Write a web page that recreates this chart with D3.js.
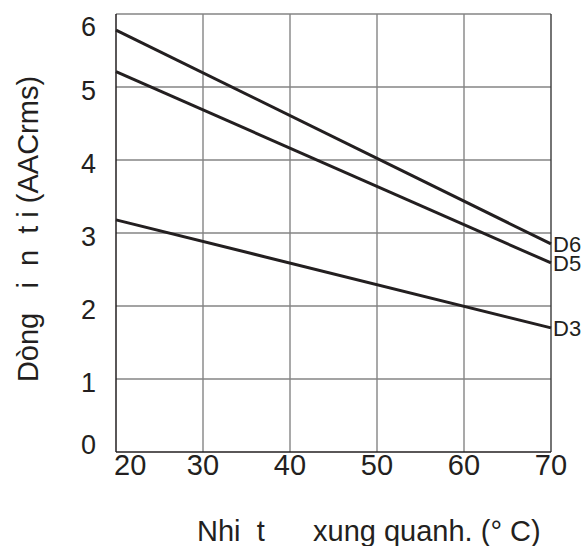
<!DOCTYPE html>
<html>
<head>
<meta charset="utf-8">
<script src="https://cdn.jsdelivr.net/npm/d3@7"></script>
<style>
  body { margin: 0; background: #fff; }
  text { font-family: "Liberation Sans", Arial, sans-serif; fill: #231f20; white-space: pre; }
</style>
</head>
<body>
<svg id="chart"></svg>
<script>
// Data
var temps = [20, 70];
var seriesNames = ["D6", "D5", "D3"];
var valsD6 = [5.78, 2.85];
var valsD5 = [5.21, 2.59];
var valsD3 = [3.18, 1.70];
var xTicks = [20, 30, 40, 50, 60, 70];
var yTicks = [0, 1, 2, 3, 4, 5, 6];
var xTitle = "Nhi  t      xung quanh. (° C)";
var yTitle = "Dòng   i  n  t i (AACrms)";

var W = 584, H = 546;
var margin = {top: 14, right: 33, bottom: 94, left: 116};

var svg = d3.select("#chart")
    .attr("width", W)
    .attr("height", H);

var x = d3.scaleLinear()
    .domain([20, 70])
    .range([margin.left, W - margin.right]);

var y = d3.scaleLinear()
    .domain([0, 6])
    .range([H - margin.bottom, margin.top]);

// grid lines
svg.append("g")
    .selectAll("line")
    .data(xTicks.slice(1, -1))
    .enter()
    .append("line")
    .attr("x1", function(d) { return x(d); })
    .attr("x2", function(d) { return x(d); })
    .attr("y1", y(0))
    .attr("y2", y(6))
    .attr("stroke", "#858585")
    .attr("stroke-width", 1.4);

svg.append("g")
    .selectAll("line")
    .data(yTicks.slice(1))
    .enter()
    .append("line")
    .attr("x1", x(20))
    .attr("x2", x(70))
    .attr("y1", function(d) { return y(d); })
    .attr("y2", function(d) { return y(d); })
    .attr("stroke", "#858585")
    .attr("stroke-width", 1.4);

// frame: left, bottom and right dark
svg.append("line")
    .attr("x1", x(20)).attr("x2", x(20))
    .attr("y1", y(0)).attr("y2", y(6))
    .attr("stroke", "#231f20").attr("stroke-width", 1.5);
svg.append("line")
    .attr("x1", x(70)).attr("x2", x(70))
    .attr("y1", y(0)).attr("y2", y(6))
    .attr("stroke", "#3a3a3a").attr("stroke-width", 1.4);
svg.append("line")
    .attr("x1", x(20)).attr("x2", x(70))
    .attr("y1", y(0)).attr("y2", y(0))
    .attr("stroke", "#231f20").attr("stroke-width", 1.5);

// tick labels
svg.append("g")
    .selectAll("text")
    .data(xTicks)
    .enter()
    .append("text")
    .attr("x", function(d, i) { return i == 0 ? x(d) - 2 : x(d); })
    .attr("y", y(0) + 23)
    .attr("text-anchor", function(d, i) { return i == 0 ? "start" : "middle"; })
    .style("font-size", "29px")
    .text(function(d) { return d; });

svg.append("g")
    .selectAll("text")
    .data(yTicks)
    .enter()
    .append("text")
    .attr("x", x(20) - 20)
    .attr("y", function(d) {
        // outer labels sit a bit inside the frame
        if (d == 6) return y(d) + 12;
        if (d == 0) return y(d) - 8;
        return y(d) + 3;
    })
    .attr("dy", "0.36em")
    .attr("text-anchor", "end")
    .style("font-size", "27px")
    .text(function(d) { return d; });

// series lines
var series = [valsD6, valsD5, valsD3];
var line = d3.line()
    .x(function(d, i) { return x(temps[i]); })
    .y(function(d) { return y(d); });

svg.append("g")
    .selectAll("path")
    .data(series)
    .enter()
    .append("path")
    .attr("d", line)
    .attr("fill", "none")
    .attr("stroke", "#231f20")
    .attr("stroke-width", 3);

// series labels at the right end
svg.append("g")
    .selectAll("text")
    .data(series)
    .enter()
    .append("text")
    .attr("x", x(70) + 2)
    .attr("y", function(d) { return y(d[d.length - 1]); })
    .attr("dy", "0.36em")
    .style("font-size", "22px")
    .text(function(d, i) { return seriesNames[i]; });

// axis titles
svg.append("text")
    .attr("x", 197)
    .attr("y", 541)
    .style("font-size", "29px")
    .text(xTitle);

svg.append("text")
    .attr("transform", "translate(38," + 229 + ") rotate(-90)")
    .attr("text-anchor", "middle")
    .style("font-size", "29px")
    .text(yTitle);
</script>
</body>
</html>
